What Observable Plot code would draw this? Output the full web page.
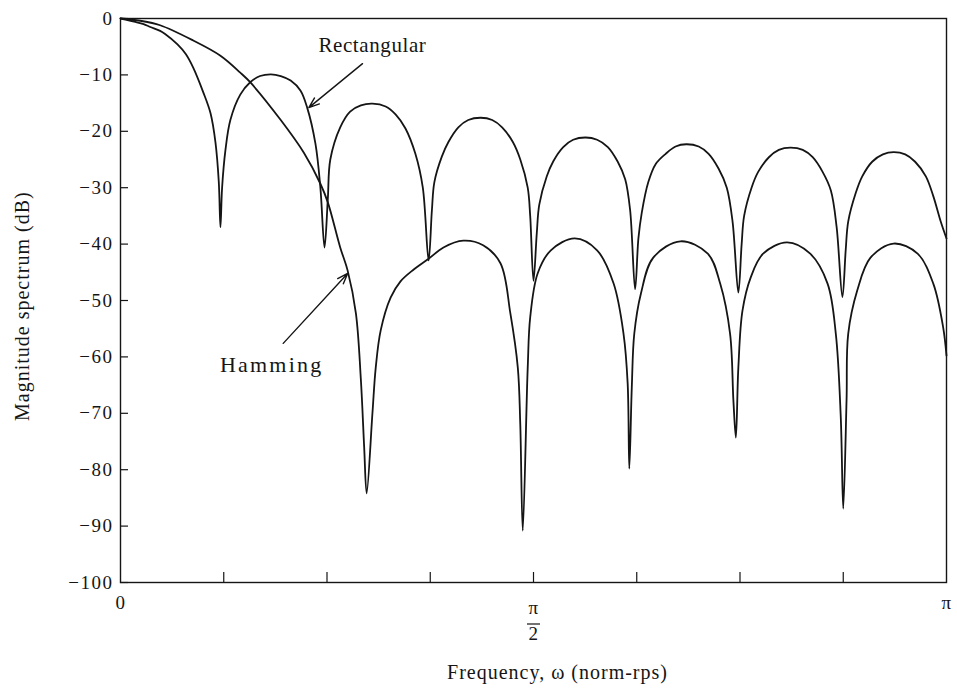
<!DOCTYPE html>
<html>
<head>
<meta charset="utf-8">
<script src="https://cdn.jsdelivr.net/npm/d3@7"></script>
<script src="https://cdn.jsdelivr.net/npm/@observablehq/plot@0.6"></script>
<style>
  html, body { margin: 0; padding: 0; background: #fff; }
  svg text { letter-spacing: 0.6px; }
  svg g[aria-label="y-axis tick label"] text { letter-spacing: 1.5px; }
</style>
</head>
<body>
<div id="chart"></div>
<script>
// Frequency in units of pi (0 .. 1), magnitude in dB
const rectF = [0,0.018,0.028,0.036,0.048,0.054,0.069,0.079,0.088,0.100,0.109,0.115,0.119,0.121,
  0.123,0.127,0.133,0.145,0.157,0.169,0.182,0.194,0.206,0.218,0.226,0.236,0.242,0.247,
  0.251,0.254,0.266,0.278,0.291,0.305,0.321,0.333,0.345,0.357,0.366,0.373,
  0.377,0.380,0.389,0.397,0.409,0.421,0.436,0.450,0.462,0.475,0.484,0.493,0.496,0.500,
  0.504,0.507,0.516,0.524,0.536,0.548,0.563,0.577,0.590,0.602,0.611,0.617,0.623,
  0.627,0.631,0.639,0.648,0.660,0.672,0.685,0.700,0.712,0.724,0.734,0.741,0.748,
  0.752,0.755,0.764,0.772,0.785,0.797,0.811,0.826,0.838,0.850,0.860,0.867,0.874,
  0.878,0.881,0.890,0.898,0.910,0.923,0.936,0.950,0.962,0.975,0.984,0.993,1.000];
const rectDb = [0,-0.6,-1.0,-1.5,-2.2,-2.75,-4.6,-6.3,-8.7,-13,-16.8,-22,-29,-37,
  -30,-23.4,-18,-13.5,-11.3,-10.2,-9.9,-10.2,-11,-12.8,-15.8,-22.2,-30,-40.6,
  -32,-25,-19.3,-16.5,-15.4,-15.1,-15.6,-17,-19.5,-24,-30,-42.9,
  -34,-29,-24.5,-21.9,-19.3,-18,-17.6,-18,-19.3,-21.9,-25,-30,-35,-46.5,
  -38,-33,-28,-25.3,-22.8,-21.5,-21.1,-21.5,-22.8,-25.4,-28.5,-34,-48,
  -39,-34.5,-29,-25.8,-24,-22.7,-22.3,-22.7,-24,-26.6,-30,-36,-48.6,
  -40,-35,-30,-27.2,-24.6,-23.3,-22.9,-23.3,-24.6,-27.2,-30.5,-37,-49.4,
  -41,-36,-31,-28,-25.4,-24.1,-23.7,-24.1,-25.4,-28,-31.5,-36,-39];

const hamF = [0,0.024,0.048,0.088,0.121,0.145,0.157,0.194,0.222,0.242,0.251,0.266,0.275,0.285,0.291,0.295,0.298,
  0.305,0.309,0.315,0.327,0.339,0.355,0.373,0.391,0.415,0.439,0.460,0.472,0.481,0.484,0.487,
  0.493,0.496,0.505,0.521,0.550,0.577,0.597,0.609,0.614,0.616,
  0.619,0.622,0.630,0.645,0.678,0.711,0.726,0.738,0.742,0.745,
  0.748,0.753,0.763,0.778,0.807,0.835,0.856,0.866,0.872,0.875,
  0.879,0.881,0.892,0.908,0.936,0.965,0.984,0.996,1.000];
const hamDb = [0,-0.4,-1.2,-3.9,-6.6,-9.6,-11.3,-18,-23.8,-29.3,-32.6,-40.6,-44.7,-52.3,-64,-76,-84.2,
  -70,-61.9,-55.3,-49.5,-46.6,-44.5,-42.6,-40.6,-39.4,-40.2,-43.4,-52.3,-61.9,-72,-90.8,
  -61.9,-53,-45.2,-41.1,-39,-41.1,-47,-55.9,-64.7,-79.8,
  -65.4,-55.9,-48.8,-42.4,-39.5,-41.7,-47,-55.9,-67.7,-74.3,
  -61.9,-51.8,-45.9,-41.7,-39.7,-41.7,-47,-55.9,-70.7,-86.9,
  -67.7,-55.9,-48.2,-42.4,-39.9,-41.7,-47,-54.8,-59.8];

const yTicks = [0,-10,-20,-30,-40,-50,-60,-70,-80,-90,-100];
const xMinorTicks = [0.125,0.25,0.375,0.5,0.625,0.75,0.875];
const xLabelTicks = [0, 1];
const xLabelText = ["0", "π"];

const labels = [
  {name: "Rectangular", f: 0.305, db: -4.8},
  {name: "Hamming", f: 0.183, db: -61.5}
];
const arrows = [
  {f1: 0.293, db1: -8.0, f2: 0.228, db2: -15.8},
  {f1: 0.197, db1: -57.6, f2: 0.275, db2: -45.2}
];

const rect = rectF.map((f, i) => ({f, db: rectDb[i]}));
const ham = hamF.map((f, i) => ({f, db: hamDb[i]}));

const W = 957, H = 688, mL = 120, mR = 11, mT = 18, mB = 106;
const plotW = W - mL - mR, plotH = H - mT - mB;
const ink = "#151515";

const chart = Plot.plot({
  width: W, height: H,
  marginLeft: mL, marginRight: mR, marginTop: mT, marginBottom: mB,
  x: {domain: [0, 1]},
  y: {domain: [-100, 0]},
  style: {fontFamily: "'Liberation Serif', 'DejaVu Serif', serif", fontSize: "19px", background: "#fff", color: ink},
  marks: [
    Plot.frame({stroke: ink, strokeWidth: 1.4}),
    Plot.tickY(yTicks, {y: d => d, stroke: ink, strokeWidth: 1.2, insetRight: plotW - 8}),
    Plot.tickX(xMinorTicks, {x: d => d, stroke: ink, strokeWidth: 1.2, insetTop: plotH - 10}),
    Plot.axisY(yTicks, {tickSize: 0, tickPadding: 7, label: null, fontSize: 19}),
    Plot.axisX(xLabelTicks, {tickSize: 0, tickPadding: 13, label: null, fontSize: 19,
      tickFormat: d => xLabelText[xLabelTicks.indexOf(d)]}),
    Plot.text(["π"], {x: [0.5], frameAnchor: "bottom", dy: 31, fontSize: 19}),
    Plot.text(["2"], {x: [0.5], frameAnchor: "bottom", dy: 57, fontSize: 19}),
    Plot.text(["Magnitude spectrum (dB)"], {y: [-51], frameAnchor: "left", textAnchor: "middle", rotate: -90, dx: -98, fontSize: 20}),
    Plot.text(["Frequency, ω (norm-rps)"], {frameAnchor: "bottom", textAnchor: "middle", dx: 24, dy: 96, fontSize: 20}),
    Plot.line(rect, {x: "f", y: "db", stroke: ink, strokeWidth: 1.8, strokeLinejoin: "round", curve: "catmull-rom"}),
    Plot.line(ham, {x: "f", y: "db", stroke: ink, strokeWidth: 1.8, strokeLinejoin: "round", curve: "catmull-rom"}),
    Plot.text(labels.slice(0, 1), {x: "f", y: "db", text: "name", fontSize: 21}),
    Plot.text(labels.slice(1), {x: "f", y: "db", text: "name", fontSize: 22}),
    Plot.arrow(arrows, {x1: "f1", y1: "db1", x2: "f2", y2: "db2", stroke: ink, strokeWidth: 1.4, headLength: 12, headAngle: 40})
  ]
});

const xs = chart.scale("x");
const svg = d3.select(chart);
// wider spacing for the scanned-looking labels
svg.selectAll("text").filter(function() { return this.textContent === "Hamming"; })
  .style("letter-spacing", "2.2px");
svg.selectAll("text").filter(function() { return this.textContent === "Magnitude spectrum (dB)" || this.textContent === "Frequency, ω (norm-rps)"; })
  .style("letter-spacing", "1px");
// fraction bar under pi in the pi/2 tick label
const cx = xs.apply(0.5);
svg.append("line")
  .attr("x1", cx - 6).attr("x2", cx + 7)
  .attr("y1", H - mB + 42).attr("y2", H - mB + 42)
  .attr("stroke", ink).attr("stroke-width", 1.2);

document.getElementById("chart").appendChild(chart);
</script>
</body>
</html>
